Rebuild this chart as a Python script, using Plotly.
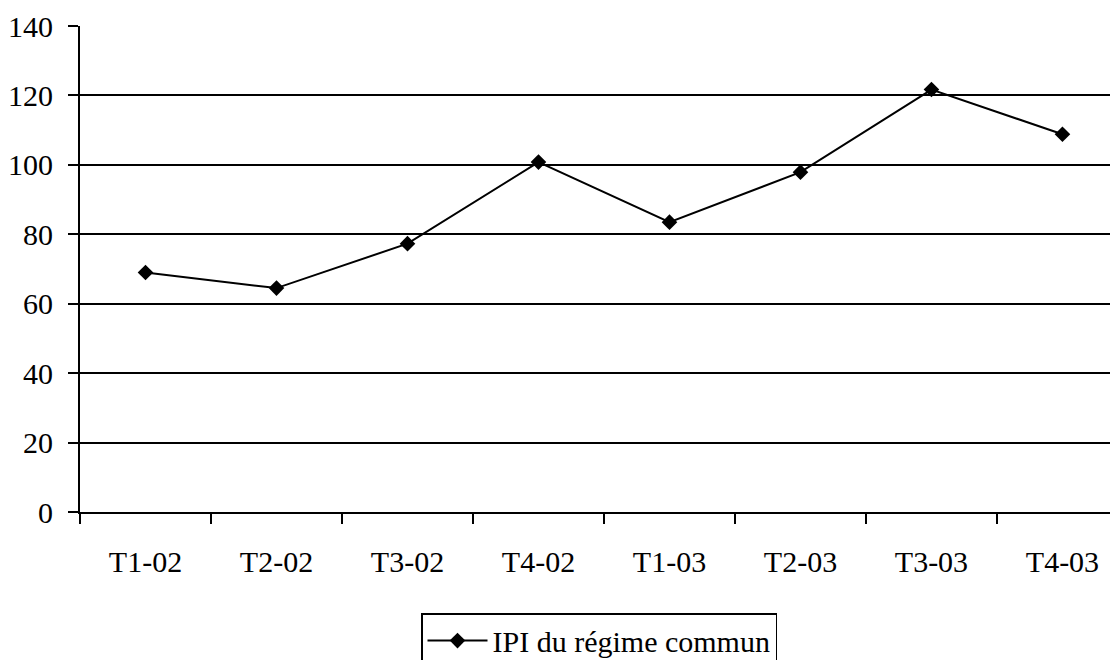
import plotly.graph_objects as go

categories = ["T1-02", "T2-02", "T3-02", "T4-02", "T1-03", "T2-03", "T3-03", "T4-03"]
ipi_values = [69.0, 64.5, 77.3, 100.8, 83.5, 97.9, 121.7, 108.8]
series_name = "IPI du régime commun"

FONT = "Liberation Serif"

fig = go.Figure()
fig.add_trace(go.Scatter(
    x=categories, y=ipi_values, name=series_name,
    mode="lines+markers",
    line=dict(color="black", width=2),
    marker=dict(symbol="diamond", size=12, color="black"),
    showlegend=True,
))

fig.update_layout(
    width=1110, height=652,
    margin=dict(l=72, r=0, t=18, b=148, autoexpand=False),
    paper_bgcolor="white", plot_bgcolor="white",
    font=dict(family=FONT, size=30, color="black"),
    showlegend=True,
    legend=dict(
        orientation="h",
        x=0.5, xanchor="center",
        y=-0.208, yanchor="top",
        bordercolor="black", borderwidth=1.5,
        itemwidth=60,
        font=dict(family=FONT, size=30, color="black"),
        bgcolor="white",
    ),
    xaxis=dict(
        type="category",
        range=[-0.5, 7.424],
        tickson="boundaries",
        ticks="outside", ticklen=10, tickwidth=1.5, tickcolor="black",
        showline=True, linecolor="black", linewidth=2,
        showgrid=False, zeroline=False,
        automargin=False,
        ticklabelstandoff=22,
        tickfont=dict(family=FONT, size=30, color="black"),
    ),
    yaxis=dict(
        range=[0, 140], dtick=20, tick0=0,
        ticks="outside", ticklen=10, tickwidth=1.5, tickcolor="black",
        showline=True, linecolor="black", linewidth=2,
        showgrid=True, gridcolor="black", gridwidth=2,
        zeroline=False,
        automargin=False,
        ticklabelstandoff=9,
        tickfont=dict(family=FONT, size=30, color="black"),
    ),
)

fig.write_html("out.html")
